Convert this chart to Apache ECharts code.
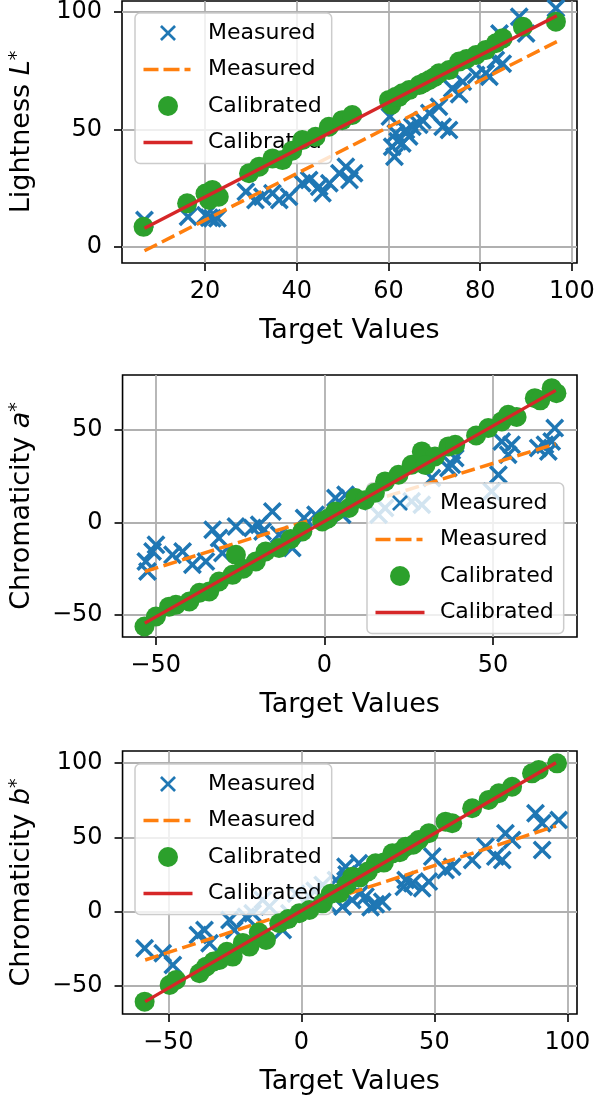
<!DOCTYPE html>
<html>
<head>
<meta charset="utf-8">
<script src="https://cdn.jsdelivr.net/npm/echarts@6/dist/echarts.min.js"></script>
<style>
  html, body { margin: 0; padding: 0; background: #ffffff; }
  #chart { width: 598px; height: 1099px; }
</style>
</head>
<body>
<div id="chart"></div>
<script>
// ---------------- DATA ----------------
// Panel 1: Lightness L*
const lMeasTarget = [6.8,16.3,20.1,20.9,21.6,22.7,28.9,31.0,32.5,34.7,36.2,38.3,41.2,42.7,44.9,45.6,47.1,49.3,50.7,51.5,52.5,60.3,60.8,61.3,61.6,62.0,63.0,63.8,64.5,65.2,66.7,67.4,68.9,71.0,71.8,73.2,73.9,75.4,76.2,79.1,81.2,82.0,83.4,84.2,84.9,88.5,90.0,96.5];
const lMeasured   = [11.5,12.9,13.5,12.5,12.2,12.2,23.5,20.0,21.4,22.9,20.0,21.4,27.1,28.5,25.7,22.9,27.1,31.4,34.2,28.5,31.4,55.5,42.7,38.4,48.4,45.0,44.1,49.8,47.0,51.2,52.0,54.0,57.0,59.7,51.2,49.8,67.5,65.0,70.3,73.2,73.9,72.5,79.6,90.9,78.0,98.0,90.9,101.6];
const lCalTarget  = [6.6,16.1,20.1,20.9,21.6,23.0,29.6,31.8,34.7,36.9,39.0,41.2,44.1,47.0,49.9,52.1,60.1,60.6,61.6,63.0,64.5,66.7,68.9,71.0,73.2,75.4,79.1,81.2,83.4,84.9,89.3,96.5,62.2,67.8,70.0,77.0];
const lCalibrated = [8.6,18.6,22.8,20.0,24.3,21.4,31.4,34.2,37.7,37.0,41.0,45.5,46.9,51.2,54.0,56.2,62.6,60.5,64.0,65.4,66.8,68.9,71.1,73.9,75.3,78.9,81.7,83.8,86.7,88.8,93.7,95.9,63.8,70.0,72.3,80.0];
const lFitX = [6.8, 96.7];
const lMeasFit = [-1.6, 87.4];
const lCalFit = [8.0, 98.4];
const lXTicks = [20, 40, 60, 80, 100];
const lYTicks = [0, 50, 100];

// Panel 2: Chromaticity a*
const aMeasTarget = [-52.9,-50.9,-49.9,-52.4,-45.0,-42.0,-39.1,-35.1,-33.1,-31.2,-26.2,-30.2,-21.3,-19.3,-18.3,-15.4,-13.4,-9.5,-6.0,-2.6,3.3,6.3,5.3,10.2,16.1,18.0,25.9,28.9,31.9,36.8,38.8,37.8,51.6,52.6,55.5,54.5,49.6,63.4,65.4,67.4,68.3,66.4];
const aMeasured   = [-21.1,-15.7,-12.1,-26.5,-17.5,-15.7,-22.9,-21.1,-3.9,-8.4,-2.2,-16.5,-3.0,-1.2,-4.9,5.9,-6.6,-13.8,2.4,4.2,13.2,15.0,4.2,11.4,4.2,7.8,11.4,9.6,24.0,29.4,34.8,31.2,25.8,43.8,42.0,36.6,16.8,40.2,42.0,43.8,51.0,38.4];
const aCalTarget  = [-53.3,-49.9,-44.0,-40.0,-34.1,-31.2,-27.2,-26.2,-20.3,-17.4,-13.4,-6.5,-0.6,3.3,7.3,9.2,18.0,22.0,25.9,28.9,32.8,36.8,38.8,48.6,52.6,54.5,62.4,67.4,68.8,-46.0,-37.0,-24.0,-10.0,1.0,12.0,15.0,30.0,45.0,57.0,64.0];
const aCalibrated = [-56.2,-50.8,-44.5,-42.7,-37.3,-31.9,-28.3,-17.5,-21.1,-15.7,-13.8,-4.9,0.5,5.9,7.8,13.2,22.2,25.8,31.2,38.4,35.7,41.1,42.0,51.0,54.6,58.2,67.2,72.6,69.9,-45.5,-38.0,-25.0,-9.0,2.0,12.0,16.0,31.0,47.0,57.0,66.0];
const aFitX = [-53.2, 68.6];
const aMeasFit = [-26.5, 42.5];
const aCalFit = [-54.4, 71.4];
const aXTicks = [-50, 0, 50];
const aYTicks = [-50, 0, 50];

// Panel 3: Chromaticity b*
const bMeasTarget = [-58.9,-52.1,-48.3,-38.9,-36.4,-34.5,-27.0,-25.2,-20.8,-18.3,-14.5,-12.0,-7.0,-4.5,3.0,13.0,15.5,16.6,21.6,19.1,24.1,30.4,39.2,38.5,41.7,45.4,47.9,49.2,54.2,56.7,64.2,69.2,72.9,75.5,76.7,79.2,88.0,90.5,96.7,90.5,5.0,8.0,10.0,-2.0,17.0,22.0,26.0,28.0];
const bMeasured   = [-24.6,-28.0,-35.8,-15.7,-12.3,-21.2,-5.6,-12.3,-3.4,-1.1,7.9,3.4,-12.3,-1.1,10.1,21.3,3.4,30.2,32.5,7.9,10.1,6.7,21.3,16.8,19.1,15.7,20.2,37.0,28.0,30.2,34.7,43.7,37.0,34.7,52.7,48.2,66.1,59.4,61.6,41.5,14.0,18.0,5.0,12.0,25.0,12.0,3.0,5.0];
const bCalTarget  = [-58.9,-49.5,-47.1,-38.3,-35.8,-30.8,-25.8,-19.5,-13.3,-8.3,-0.8,3.0,8.0,14.3,19.1,27.9,34.2,39.2,44.1,47.9,54.2,56.7,64.2,70.4,74.2,79.2,86.7,89.2,96.1,-33.0,-28.0,-22.0,-16.0,-5.0,11.0,17.0,22.0,25.0,31.0,37.0,42.0];
const bCalibrated = [-60.5,-49.3,-45.9,-41.4,-37.0,-32.5,-30.2,-23.5,-19.0,-7.8,-1.1,1.1,5.6,12.4,23.5,32.5,39.2,43.7,48.2,52.7,60.5,59.4,69.5,75.1,79.6,84.0,93.0,95.2,99.7,-33.5,-27.0,-21.0,-14.0,-5.0,12.0,18.0,23.0,27.0,33.0,40.0,45.0];
const bFitX = [-58.7, 95.7];
const bMeasFit = [-32.5, 57.6];
const bCalFit = [-60.5, 100.1];
const bXTicks = [-50, 0, 50, 100];
const bYTicks = [-50, 0, 50, 100];

// ---------------- STYLE / LAYOUT ----------------
const FONT = 'DejaVu Sans';
const C_BLUE = '#1f77b4', C_ORANGE = '#ff7f0e', C_GREEN = '#2ca02c', C_RED = '#d62728';
const X_SYMBOL = 'path://M0,1.3L1.3,0L5,3.7L8.7,0L10,1.3L6.3,5L10,8.7L8.7,10L5,6.3L1.3,10L0,8.7L3.7,5Z';
// legend icons drawn inside a 52x20 box (corner dots fix the box size)
const BOX = 'M0,0L0.01,0L0.01,0.01Z M52,20L51.99,20L51.99,19.99Z ';
const X_LEGEND = 'path://' + BOX + 'M18,3.9L19.9,2L26,8.1L32.1,2L34,3.9L27.9,10L34,16.1L32.1,18L26,11.9L19.9,18L18,16.1L24.1,10Z';
const DASH_LEGEND = 'path://' + BOX + 'M1.5,8.3L16.5,8.3L16.5,11.7L1.5,11.7Z M21.5,8.3L37.5,8.3L37.5,11.7L21.5,11.7Z M42.5,8.3L48.5,8.3L48.5,11.7L42.5,11.7Z';
const LINE_LEGEND = 'path://' + BOX + 'M1.5,8.3L50.5,8.3L50.5,11.7L1.5,11.7Z';
const LABELS = { meas: 'Measured', measfit: 'Measured', cal: 'Calibrated', calfit: 'Calibrated' };

const panels = [
  { key: 'L', top: 1, height: 262, xr: [1.9, 101.1], yr: [-6.8, 104.7], xt: lXTicks, yt: lYTicks, xi: 20, yi: 50,
    yname: '{n|Lightness }{i|L}{s|*}', legend: { left: 135, top: 13 },
    mx: lMeasTarget, my: lMeasured, cx: lCalTarget, cy: lCalibrated, fx: lFitX, fm: lMeasFit, fc: lCalFit },
  { key: 'a', top: 375, height: 262, xr: [-59.8, 74.9], yr: [-61.9, 79.7], xt: aXTicks, yt: aYTicks, xi: 50, yi: 50,
    yname: '{n|Chromaticity }{i|a}{s|*}', legend: { left: 367, top: 483 },
    mx: aMeasTarget, my: aMeasured, cx: aCalTarget, cy: aCalibrated, fx: aFitX, fm: aMeasFit, fc: aCalFit },
  { key: 'b', top: 751, height: 263, xr: [-67.2, 103.6], yr: [-68.8, 108.0], xt: bXTicks, yt: bYTicks, xi: 50, yi: 50,
    yname: '{n|Chromaticity }{i|b}{s|*}', legend: { left: 135, top: 764 },
    mx: bMeasTarget, my: bMeasured, cx: bCalTarget, cy: bCalibrated, fx: bFitX, fm: bMeasFit, fc: bCalFit }
];

const fmt = v => String(v).replace('-', '\u2212');
const zip = (xs, ys) => xs.map((x, i) => [x, ys[i]]);

const option = {
  animation: false,
  backgroundColor: '#ffffff',
  textStyle: { fontFamily: FONT, color: '#000' },
  grid: [], xAxis: [], yAxis: [], series: [], legend: []
};

function makeAxis(i, range, ticks, step) {
  return {
    type: 'value', gridIndex: i, min: range[0], max: range[1],
    minInterval: step, maxInterval: step,
    axisLine: { show: false, onZero: false },
    axisTick: { show: true, inside: false, length: 8, customValues: ticks, lineStyle: { color: '#000', width: 1.6 } },
    axisLabel: { show: true, fontSize: 24, color: '#000', fontFamily: FONT, formatter: fmt, customValues: ticks },
    splitLine: { show: true, showMinLine: true, showMaxLine: true, lineStyle: { color: '#b0b0b0', width: 1.8 } }
  };
}

panels.forEach((p, i) => {
  option.grid.push({ left: 122, width: 455, top: p.top, height: p.height, show: true,
    borderColor: '#000', borderWidth: 1.6, backgroundColor: 'transparent', containLabel: false });

  const xa = makeAxis(i, p.xr, p.xt, p.xi);
  xa.position = 'bottom';
  xa.axisLabel.margin = 17;
  xa.name = 'Target Values'; xa.nameLocation = 'middle'; xa.nameGap = 54;
  xa.nameTextStyle = { fontSize: 27, color: '#000', fontFamily: FONT };
  option.xAxis.push(xa);

  const ya = makeAxis(i, p.yr, p.yt, p.yi);
  ya.position = 'left';
  ya.axisLabel.margin = 20;
  ya.name = p.yname; ya.nameLocation = 'middle'; ya.nameGap = 87; ya.nameRotate = 90;
  ya.nameTextStyle = { fontSize: 27, color: '#000', fontFamily: FONT, rich: {
    n: { fontSize: 27, fontFamily: FONT, color: '#000', lineHeight: 27, verticalAlign: 'bottom' },
    i: { fontSize: 27, fontFamily: FONT, fontStyle: 'italic', color: '#000', lineHeight: 27, verticalAlign: 'bottom' },
    s: { fontSize: 19, fontFamily: FONT, color: '#000', lineHeight: 19, verticalAlign: 'top', padding: [0, 0, 14, 0] }
  } };
  option.yAxis.push(ya);

  const n = k => p.key + '|' + k;
  option.series.push(
    { name: n('meas'), type: 'scatter', xAxisIndex: i, yAxisIndex: i, data: zip(p.mx, p.my),
      symbol: X_SYMBOL, symbolSize: 19, itemStyle: { color: C_BLUE, opacity: 1 }, z: 2, silent: true, clip: false },
    { name: n('measfit'), type: 'line', xAxisIndex: i, yAxisIndex: i, data: zip(p.fx, p.fm),
      symbol: 'none', showSymbol: false, lineStyle: { color: C_ORANGE, width: 3.5, type: [14, 5.5] }, itemStyle: { color: C_ORANGE }, z: 3, silent: true },
    { name: n('cal'), type: 'scatter', xAxisIndex: i, yAxisIndex: i, data: zip(p.cx, p.cy),
      symbol: 'circle', symbolSize: 20, itemStyle: { color: C_GREEN, opacity: 1 }, z: 4, silent: true, clip: false },
    { name: n('calfit'), type: 'line', xAxisIndex: i, yAxisIndex: i, data: zip(p.fx, p.fc),
      symbol: 'none', showSymbol: false, lineStyle: { color: C_RED, width: 3.4 }, itemStyle: { color: C_RED }, z: 5, silent: true }
  );

  option.legend.push({
    left: p.legend.left, top: p.legend.top, orient: 'vertical',
    data: [
      { name: n('meas'), icon: X_LEGEND, itemStyle: { color: C_BLUE } },
      { name: n('measfit'), icon: DASH_LEGEND, itemStyle: { color: C_ORANGE } },
      { name: n('cal'), icon: 'circle', itemStyle: { color: C_GREEN } },
      { name: n('calfit'), icon: LINE_LEGEND, itemStyle: { color: C_RED } }
    ],
    formatter: nm => LABELS[nm.split('|')[1]],
    itemWidth: 52, itemHeight: 20, itemGap: 14.5,
    padding: [9, 10, 10, 7],
    backgroundColor: 'rgba(255,255,255,0.8)', borderColor: '#cccccc', borderWidth: 1.5, borderRadius: 5,
    itemStyle: { borderWidth: 0 },
    lineStyle: { width: 0 },
    textStyle: { fontSize: 22, color: '#000', fontFamily: FONT, lineHeight: 20, padding: [0, 0, 0, 9] },
    selectedMode: false
  });
});

const chart = echarts.init(document.getElementById('chart'), null, { renderer: 'canvas' });
chart.setOption(option);
</script>
</body>
</html>
